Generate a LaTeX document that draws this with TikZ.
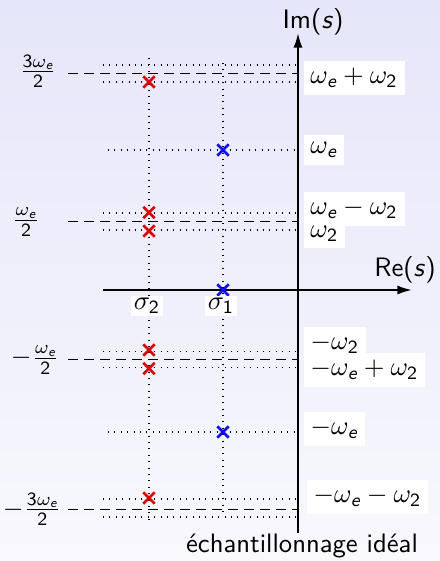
\documentclass[tikz,border=0pt]{standalone}
\usepackage{amsmath}
\usepackage{fontspec}
\renewcommand\familydefault{\sfdefault}
\usetikzlibrary{arrows.meta,shapes.misc}
\definecolor{bgtop}{RGB}{230,230,250}
\definecolor{bgbot}{RGB}{248,248,253}
\definecolor{xred}{RGB}{215,10,10}
\definecolor{xblue}{RGB}{15,15,235}
\newcommand\ie{\text{\itshape e}}
\newcommand\we{\omega_{\ie}}
\newcommand\wt{\omega_{\text{2}}}
\begin{document}
\begin{tikzpicture}[x=0.375pt,y=-0.375pt,
  lab/.style={fill=white,inner sep=2.6pt,anchor=west},
  sig/.style={fill=white,inner sep=1pt},
  rx/.style={cross out,draw=xred,line width=0.95pt,minimum size=3.3pt,inner sep=0pt},
  bx/.style={cross out,draw=xblue,line width=0.95pt,minimum size=3.3pt,inner sep=0pt},
  hdot/.style={dotted,line width=0.4pt},
  hdash/.style={line width=0.35pt,dash pattern=on 3.75pt off 2.25pt},
  axis/.style={line width=0.7pt,-{Latex[length=5.5pt,width=3.4pt]}}]
\shade[top color=bgtop,bottom color=bgbot] (0,0) rectangle (440,561);
\useasboundingbox (0,0) rectangle (440,561);
% coordinates
\coordinate (ax0) at (298,533);
\coordinate (ax1) at (298,33);
\coordinate (re0) at (103,290);
\coordinate (re1) at (412,290);
% horizontal dotted lines
\foreach \y in {65,82,213,230,351.5,367.5,499,517}
  \draw[hdot] (103,\y) coordinate (l) -- (298,\y) coordinate (r);
\foreach \y in {150,432}
  \draw[hdot] (108,\y) coordinate (l) -- (298,\y) coordinate (r);
% dashed lines
\foreach \y in {73,221.5,359.5,509}
  \draw[hdash] (68,\y) coordinate (l) -- (298,\y) coordinate (r);
% vertical dotted lines
\coordinate (s2t) at (149,58); \coordinate (s2b) at (149,522);
\coordinate (s1t) at (223,63); \coordinate (s1b) at (223,517);
\draw[hdot] (s2t) -- (s2b);
\draw[hdot] (s1t) -- (s1b);
% axes
\draw[axis] (ax0) -- (ax1);
\draw[axis] (re0) -- (re1);
% crosses
\foreach \y [count=\i] in {82,212.5,231,350,368.5,498}
  \node[rx] (r\i) at (149,\y) {};
\foreach \y [count=\i] in {150,290,432}
  \node[bx] (b\i) at (223,\y) {};
% axis labels
\node (im) at (313,22) {Im(\textit{s})};
\node (re) at (405,270) {Re(\textit{s})};
\node (ideal) at (302,546) {échantillonnage idéal};
\node[sig] (sg2) at (147,306) {$\sigma_{\text{2}}$};
\node[sig] (sg1) at (221,306) {$\sigma_{\text{1}}$};
% right labels
\node[lab] (p1) at (303,78) {$\we+\wt$};
\node[lab] (p2) at (303,150) {$\we$};
\node[lab] (p3) at (303,209) {$\we-\wt$};
\node[lab] (p4) at (303,233.5) {$\wt$};
\node[lab] (p5) at (303,344) {$-\wt$};
\node[lab] (p6) at (303,370) {$-\we+\wt$};
\node[lab] (p7) at (303,429) {$-\we$};
\node[lab] (p8) at (306,497) {$-\we-\wt$};
% left labels
\node[inner sep=1pt] (f1) at (38,71) {$\frac{\text{3}\we}{\text{2}}$};
\node[inner sep=1pt] (f2) at (26,222) {$\frac{\we}{\text{2}}$};
\node[inner sep=1pt] (f3) at (35,360) {$-\frac{\we}{\text{2}}$};
\node[inner sep=1pt] (f4) at (32,509) {$-\frac{\text{3}\we}{\text{2}}$};
\end{tikzpicture}
\end{document}
